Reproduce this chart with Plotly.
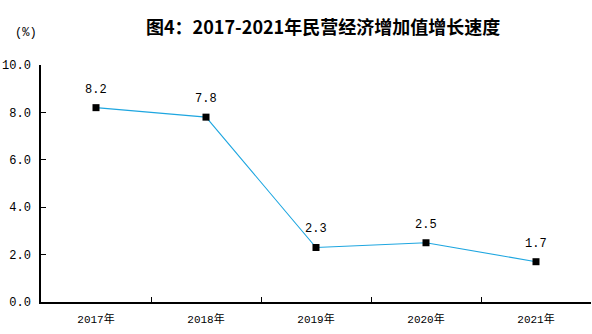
import plotly.graph_objects as go

years = ["2017年", "2018年", "2019年", "2020年", "2021年"]
growth = [8.2, 7.8, 2.3, 2.5, 1.7]
labels = ["8.2", "7.8", "2.3", "2.5", "1.7"]
y_ticks = [0, 2, 4, 6, 8, 10]
y_ticktext = ["0.0", "2.0", "4.0", "6.0", "8.0", "10.0"]

fig = go.Figure()
fig.add_trace(go.Scatter(
    x=years, y=growth, mode="lines+markers",
    line=dict(color="#1ea6e0", width=1.1),
    marker=dict(symbol="square", size=7, color="black"),
    hoverinfo="skip", showlegend=False,
))

for x, y, t in zip(years, growth, labels):
    fig.add_annotation(x=x, y=y, text=t, showarrow=False, yshift=18,
                       font=dict(family="Liberation Mono, DejaVu Sans Mono", size=12, color="black"))

fig.add_annotation(text="图4：2017-2021年民营经济增加值增长速度", xref="paper", yref="paper",
                   x=(323 - 41) / 550, y=1, yshift=54, showarrow=False,
                   font=dict(family="Noto Sans CJK SC", size=18, color="black", weight="bold"))
fig.add_annotation(text="(%)", xref="paper", yref="paper", x=0, xshift=-28, y=1, yshift=41,
                   showarrow=False,
                   font=dict(family="Liberation Mono, DejaVu Sans Mono", size=12, color="black"))

fig.update_layout(
    width=592, height=334,
    margin=dict(l=41, r=1, t=65, b=32),
    plot_bgcolor="white", paper_bgcolor="white",
    font=dict(family="Liberation Mono, DejaVu Sans Mono", size=11, color="black"),
)
fig.update_xaxes(
    type="category", range=[-0.5, 4.5], showgrid=False, showline=True,
    linecolor="black", linewidth=1.5, ticks="inside", ticklen=5, tickcolor="black",
    tickson="boundaries", ticklabelstandoff=6,
    tickfont=dict(family="Liberation Mono, Noto Sans CJK SC", size=11),
)
fig.update_yaxes(
    range=[0, 10], tickvals=y_ticks, ticktext=y_ticktext, showgrid=False, zeroline=False,
    showline=True, linecolor="black", linewidth=1.5, ticks="inside", ticklen=5,
    tickcolor="black", ticklabelstandoff=6, tickfont=dict(family="Liberation Mono", size=12),
)

fig.write_html("out.html")
